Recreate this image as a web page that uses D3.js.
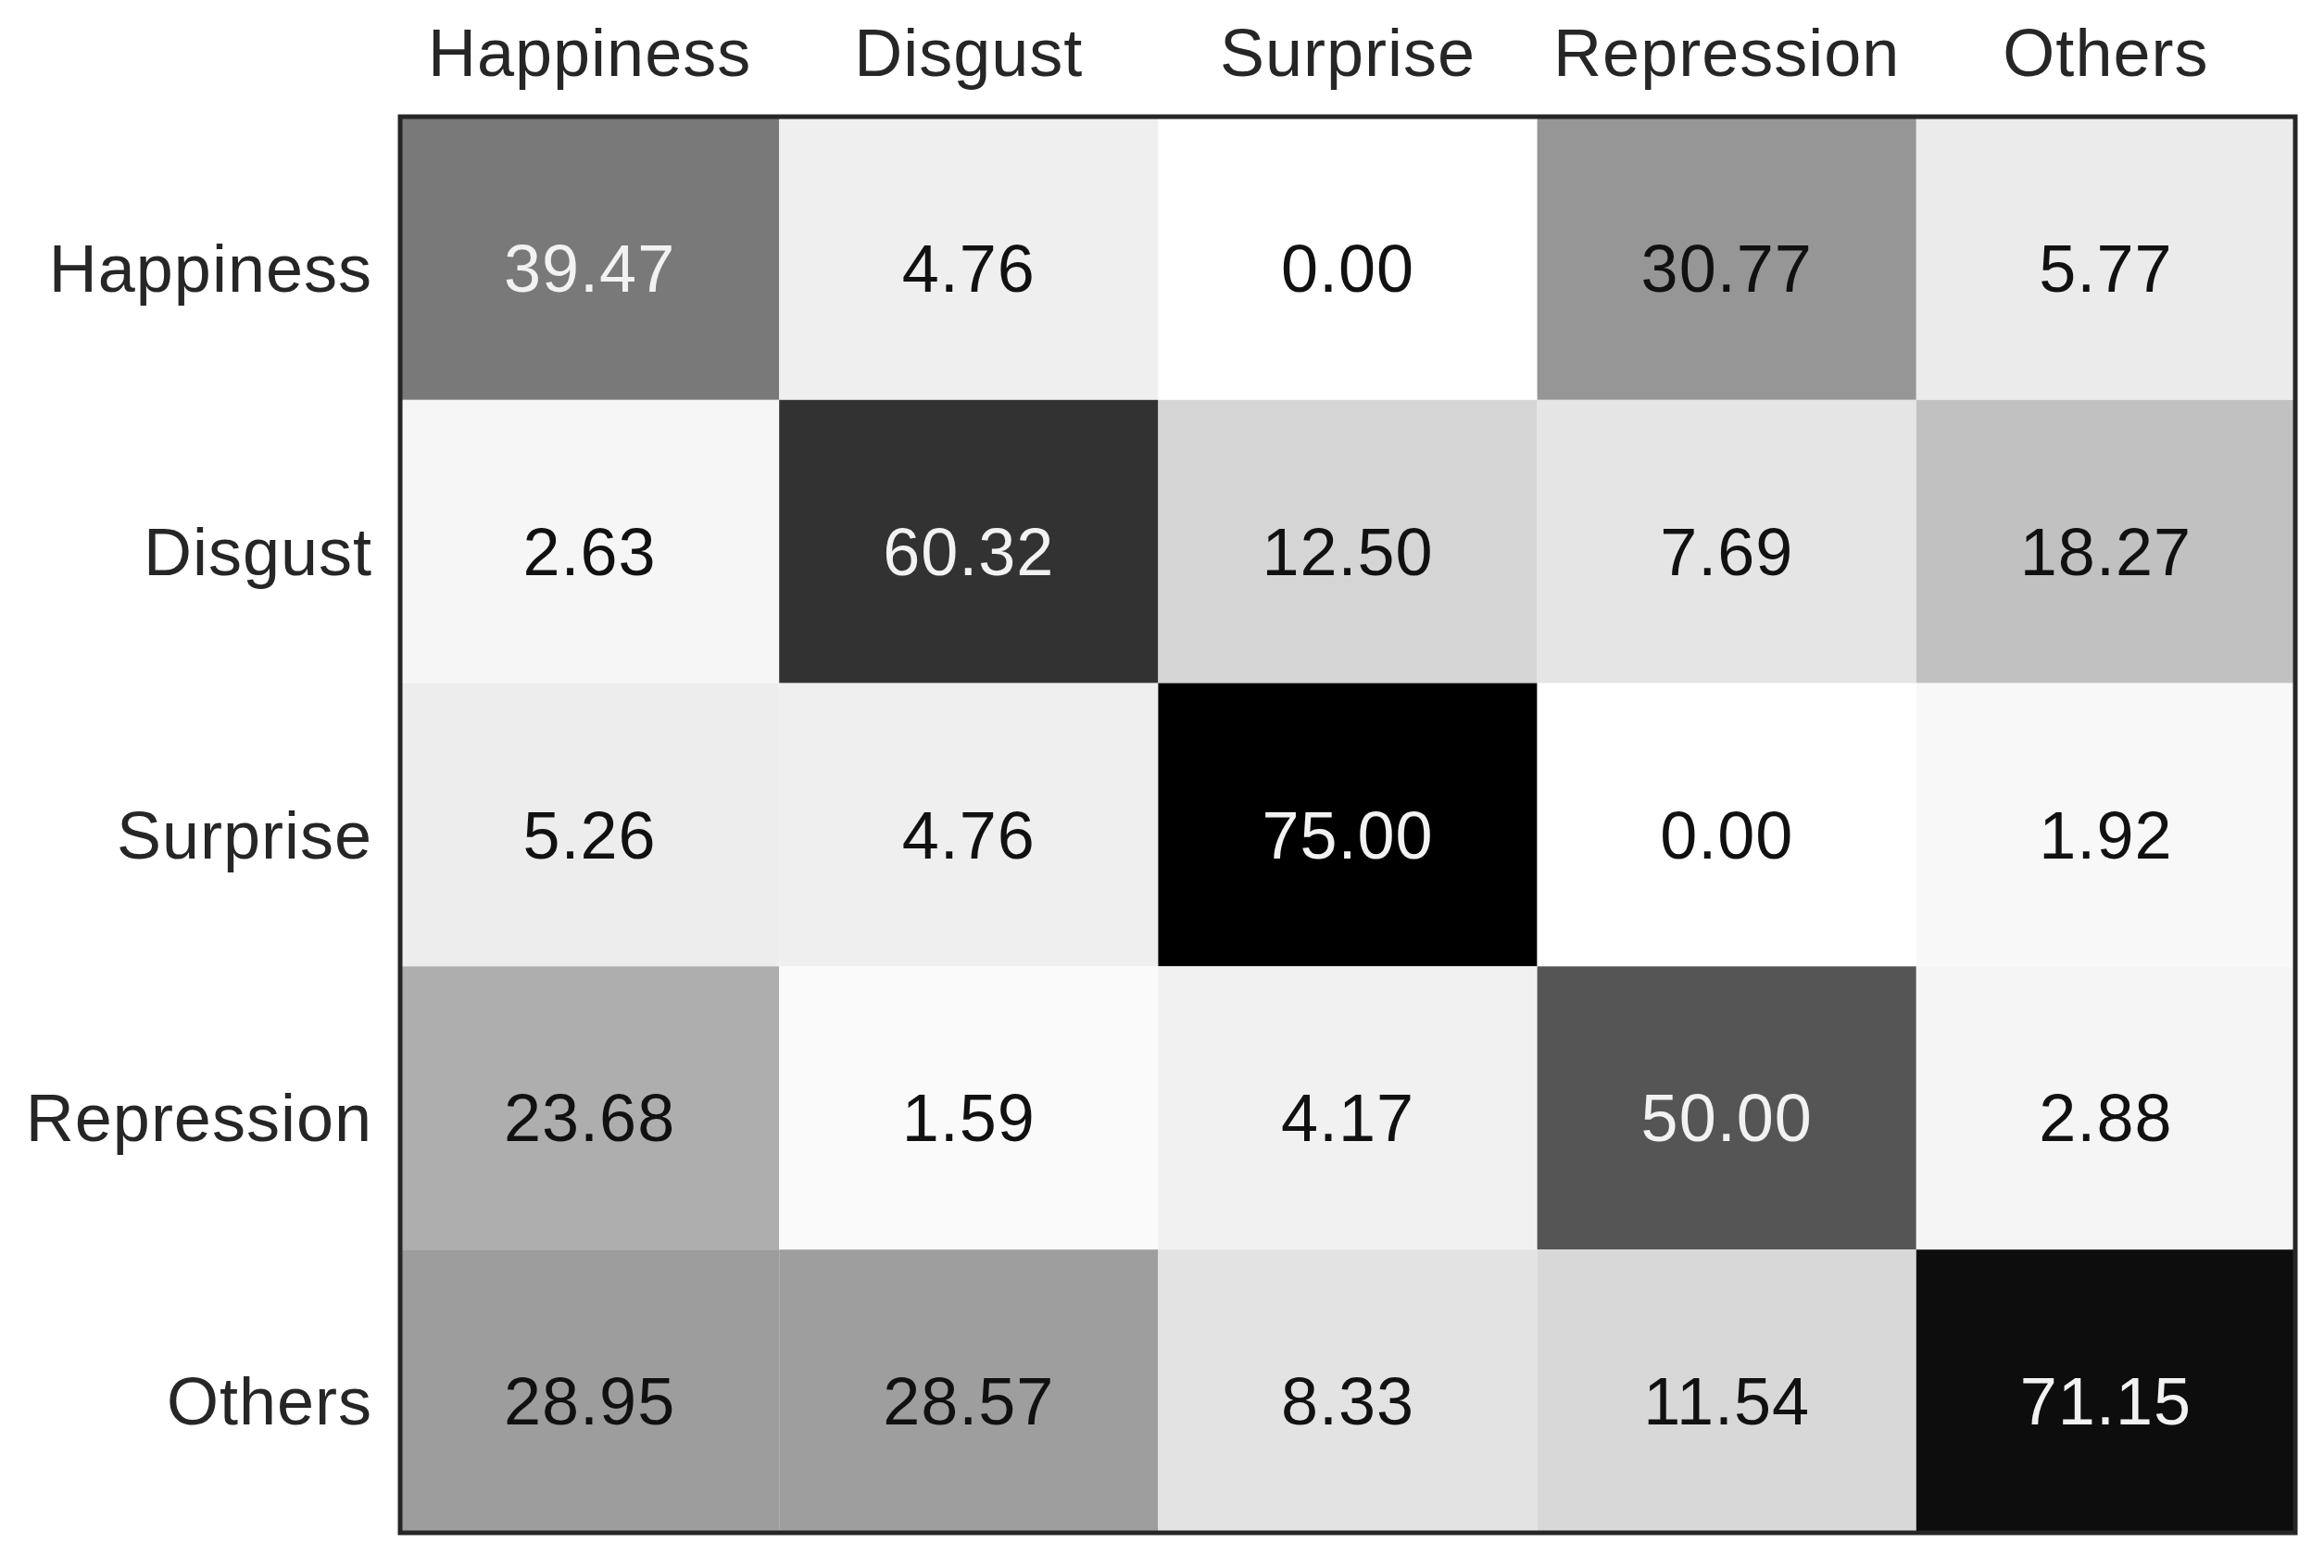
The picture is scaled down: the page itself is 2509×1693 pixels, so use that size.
<!DOCTYPE html>
<meta charset="utf-8">
<head>
    <title>Confusion matrix</title>
</head>
<style>
    body { margin: 0; background: #fff; }
    .tick text { font-family: "Liberation Sans", Arial, sans-serif; font-size: 72px; fill: #262626; letter-spacing: 1px; }
</style>
<div id="graph_div"></div>
<script src="https://d3js.org/d3.v7.min.js"></script>
<script>
    // class names (rows = true, columns = predicted)
    var classes = ["Happiness", "Disgust", "Surprise", "Repression", "Others"];

    // percentages, one array per row
    var happinessRow  = [39.47, 4.76, 0.00, 30.77, 5.77];
    var disgustRow    = [2.63, 60.32, 12.50, 7.69, 18.27];
    var surpriseRow   = [5.26, 4.76, 75.00, 0.00, 1.92];
    var repressionRow = [23.68, 1.59, 4.17, 50.00, 2.88];
    var othersRow     = [28.95, 28.57, 8.33, 11.54, 71.15];

    var rows = [happinessRow, disgustRow, surpriseRow, repressionRow, othersRow];

    var margin = {top: 126, right: 31, bottom: 38, left: 432},
        width = 2509 - margin.left - margin.right,
        height = 1693 - margin.top - margin.bottom;

    var svg = d3.select("#graph_div")
      .append("svg")
        .attr("width", width + margin.left + margin.right)
        .attr("height", height + margin.top + margin.bottom)
      .append("g")
        .attr("transform", "translate(" + margin.left + "," + margin.top + ")");

    var x = d3.scaleBand().domain(classes).range([0, width]);
    var y = d3.scaleBand().domain(classes).range([0, height]);

    var maxVal = d3.max(rows, function(r) { return d3.max(r); });
    var color = d3.scaleLinear().domain([0, maxVal]).range(["#ffffff", "#000000"]);

    var cells = [];
    rows.forEach(function(r, i) {
      r.forEach(function(v, j) {
        cells.push({row: classes[i], col: classes[j], value: v});
      });
    });

    svg.selectAll("rect.cell")
      .data(cells)
      .enter()
      .append("rect")
        .attr("class", "cell")
        .attr("x", function(d) { return x(d.col); })
        .attr("y", function(d) { return y(d.row); })
        .attr("width", x.bandwidth())
        .attr("height", y.bandwidth())
        .attr("fill", function(d) { return color(d.value); });

    svg.selectAll("text.val")
      .data(cells)
      .enter()
      .append("text")
        .attr("class", "val")
        .attr("x", function(d) { return x(d.col) + x.bandwidth() / 2; })
        .attr("y", function(d) { return y(d.row) + y.bandwidth() / 2; })
        .attr("dy", "0.5em")
        .attr("text-anchor", "middle")
        .style("font-family", "'Liberation Sans', Arial, sans-serif")
        .style("font-size", "72px")
        .style("letter-spacing", "1px")
        .attr("fill", function(d) { return d.value > maxVal * 0.45 ? "#f2f2f2" : "#111111"; })
        .text(function(d) { return d.value.toFixed(2); });

    // frame
    svg.append("rect")
        .attr("x", 0)
        .attr("y", 0)
        .attr("width", width)
        .attr("height", height)
        .attr("fill", "none")
        .attr("stroke", "#262626")
        .attr("stroke-width", 5);

    var xAxis = svg.append("g")
        .call(d3.axisTop(x).tickSize(0).tickPadding(44));
    xAxis.select(".domain").remove();

    var yAxis = svg.append("g")
        .call(d3.axisLeft(y).tickSize(0).tickPadding(30));
    yAxis.select(".domain").remove();
    yAxis.selectAll(".tick text").attr("dy", "0.5em");
</script>
